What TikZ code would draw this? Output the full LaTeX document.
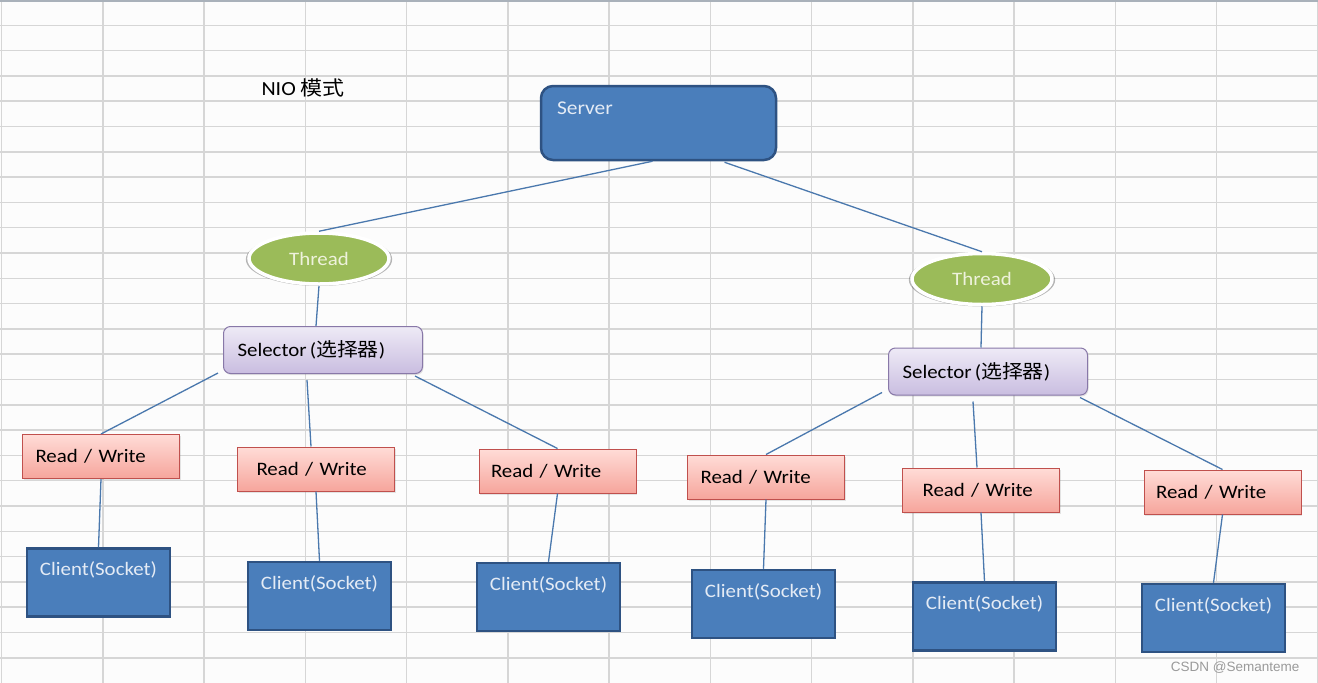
\documentclass[tikz,border=0pt]{standalone}
\usepackage{fontspec}
\setmainfont[FakeStretch=1.1]{Carlito}
\newfontfamily\cjk[FakeStretch=1.1]{Noto Sans CJK SC}
\newfontfamily\wmfont{Liberation Sans}
\usetikzlibrary{shapes.geometric,shadows,calc}
\definecolor{gridc}{HTML}{D6D6D6}
\definecolor{topc}{HTML}{A9B1BA}
\definecolor{blueF}{HTML}{4A7EBB}
\definecolor{blueD}{HTML}{2E5282}
\definecolor{lightT}{HTML}{E4EBF5}
\definecolor{greenF}{HTML}{9BBB59}
\definecolor{greenT}{HTML}{EEF2DC}
\definecolor{selTop}{HTML}{EEEAF6}
\definecolor{selBot}{HTML}{C9BDE0}
\definecolor{selD}{HTML}{8878A8}
\definecolor{rwTop}{HTML}{FFDCD7}
\definecolor{rwBot}{HTML}{F6A59C}
\definecolor{rwD}{HTML}{C0504D}
\definecolor{linkc}{HTML}{4A78AD}
\definecolor{wmc}{HTML}{9A9A9A}
\tikzset{
  gridline/.style={draw=gridc, line width=1.5pt},
  link/.style={draw=linkc, line width=1.3pt},
  srvbox/.style={rectangle, rounded corners=12pt, fill=blueF, draw=blueD, line width=2.5pt,
    minimum width=235pt, text width=203pt, inner xsep=16pt, inner ysep=0pt,
    align=left, text height=28pt, text depth=46pt, text=lightT, font=\fontsize{19.5}{21}\selectfont},
  thr/.style={ellipse, minimum width=140pt, minimum height=51pt, inner sep=0pt, fill=greenF,
    draw=white, line width=3.5pt, text=greenT,
    general shadow={fill=black, opacity=0.28, shadow scale=1.045, shadow yshift=-0.8pt}},
  selbox/.style={rectangle, rounded corners=7pt, top color=selTop, bottom color=selBot, draw=selD,
    line width=1pt, minimum width=199pt, minimum height=47pt, text width=171pt, inner xsep=14pt,
    inner ysep=0pt, align=left, text=black,
    drop shadow={shadow xshift=1pt, shadow yshift=-1.5pt, opacity=0.2}},
  rwbox/.style={rectangle, top color=rwTop, bottom color=rwBot, draw=rwD, line width=1pt,
    minimum width=157pt, minimum height=44pt, text width=133pt, inner xsep=12pt, inner ysep=0pt,
    align=left, text=black,
    drop shadow={shadow xshift=1pt, shadow yshift=-1.5pt, opacity=0.2}},
  clbox/.style={rectangle, fill=blueF, draw=blueD, line width=2.5pt, minimum width=143pt,
    inner xsep=0pt, inner ysep=0pt, text height=27pt, text depth=41pt, text=lightT},
}
\begin{document}
\begin{tikzpicture}[x=1pt, y=-1pt, font=\fontsize{19}{21}\selectfont]
\useasboundingbox (0,0) rectangle (1318,683);
\fill[white!98!gray] (0,0) rectangle (1318,683);
% grid
\foreach \i in {0,...,13} {\draw[gridline] ({1.5+101.25*\i},0) -- ({1.5+101.25*\i},683);}
\foreach \j in {1,...,26} {\draw[gridline] (0,{25.3*\j}) -- (1318,{25.3*\j});}
\draw[draw=topc, line width=2pt] (0,0.5) -- (1318,0.5);

\node[anchor=west, text=black, font=\fontsize{20}{22}\selectfont] (title) at (258,88) {NIO {\cjk 模式}};

\node[srvbox] (srv) at (658.5,123) {Server};
\node[thr] (th1) at (319,258.5) {Thread};
\node[thr] (th2) at (982,279) {Thread};
\node[selbox] (sel1) at (323,350) {Selector\,({\cjk 选择器})};
\node[selbox] (sel2) at (988,371.5) {Selector\,({\cjk 选择器})};

\node[rwbox] (rw1) at (101,456.5) {\hspace*{1pt}Read / Write};
\node[rwbox] (rw2) at (316,469) {\hspace*{7pt}Read / Write};
\node[rwbox] (rw3) at (557.5,471) {Read / Write};
\node[rwbox] (rw4) at (766,477) {\hspace*{1pt}Read / Write};
\node[rwbox] (rw5) at (981,490) {\hspace*{8pt}Read / Write};
\node[rwbox] (rw6) at (1222.5,492) {Read / Write};

\node[clbox] (c1) at (98.5,582.5) {Client(Socket)};
\node[clbox] (c2) at (319.5,596) {Client(Socket)};
\node[clbox] (c3) at (548.5,597) {Client(Socket)};
\node[clbox] (c4) at (763.5,604) {Client(Socket)};
\node[clbox] (c5) at (984.5,616.5) {Client(Socket)};
\node[clbox] (c6) at (1213.5,618) {Client(Socket)};

% connectors
\draw[link] ($(srv.south)+(-6,0)$) -- (th1.north);
\draw[link] ($(srv.south)+(66,1)$) -- (th2.north);
\draw[link] (th1.south) -- ($(sel1.north)+(-7,0)$);
\draw[link] (th2.south) -- ($(sel2.north)+(-7,0)$);
\draw[link] ($(sel1.south west)+(-5,-1)$) -- (rw1.north);
\draw[link] ($(sel1.south)+(-16,6)$) -- ($(rw2.north)+(-5,0)$);
\draw[link] ($(sel1.south east)+(-8,2)$) -- (rw3.north);
\draw[link] ($(sel2.south west)+(-6,-3)$) -- (rw4.north);
\draw[link] ($(sel2.south)+(-15,6)$) -- ($(rw5.north)+(-4,0)$);
\draw[link] ($(sel2.south east)+(-8,2)$) -- (rw6.north);
\draw[link] (rw1.south) -- (c1.north);
\draw[link] (rw2.south) -- (c2.north);
\draw[link] (rw3.south) -- (c3.north);
\draw[link] (rw4.south) -- (c4.north);
\draw[link] (rw5.south) -- (c5.north);
\draw[link] (rw6.south) -- (c6.north);

\node[anchor=east, text=wmc, font=\wmfont\fontsize{13.5}{15}\selectfont] (wm) at (1303,668) {CSDN @Semanteme};
\end{tikzpicture}
\end{document}
